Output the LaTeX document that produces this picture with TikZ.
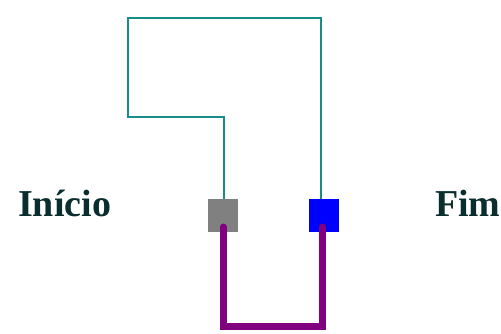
\documentclass[tikz,border=0pt]{standalone}
\usepackage{fontspec}
\setmainfont{Liberation Serif}
\definecolor{tealline}{RGB}{24,140,136}
\definecolor{redshadow}{RGB}{255,150,150}
\definecolor{purp}{RGB}{128,0,128}
\definecolor{txt}{RGB}{10,45,45}
\begin{document}
\begin{tikzpicture}[x=1pt,y=-1pt,
  sq/.style={minimum width=30pt,minimum height=32pt,inner sep=0pt,outer sep=0pt},
  wire/.style={draw=tealline,line width=1.8pt},
  shadowwire/.style={draw=redshadow,line width=1.2pt},
  loopwire/.style={draw=purp,line width=7pt,line cap=round},
  lbl/.style={font=\fontsize{38}{40}\selectfont\bfseries,text=txt,inner sep=0pt,anchor=base west}]
\useasboundingbox (0,0) rectangle (501,334);
\fill[white] (0,0) rectangle (501,334);
\node[sq,fill=gray] (s) at (223,215.5) {};
\node[sq,fill=blue] (e) at (323.5,215.5) {};
\coordinate (p1) at (224,117);
\coordinate (p2) at (128,117);
\coordinate (p3) at (128,18);
\coordinate (p4) at (321,18);
\draw[shadowwire,shift={(1,1)}] (s.north -| p1) -- (p1) -- (p2) -- (p3) -- (p4) -- (e.north -| p4);
\draw[wire] (s.north -| p1) -- (p1) -- (p2) -- (p3) -- (p4) -- (e.north -| p4);
\coordinate (b1) at (223,227);
\coordinate (b2) at (322,227);
\draw[loopwire] (b1) -- (223,326.5) -- (322,326.5) -- (b2);
\node[lbl] (start) at (18,217) {Início};
\node[lbl] (end) at (435,217) {Fim};
\end{tikzpicture}
\end{document}
